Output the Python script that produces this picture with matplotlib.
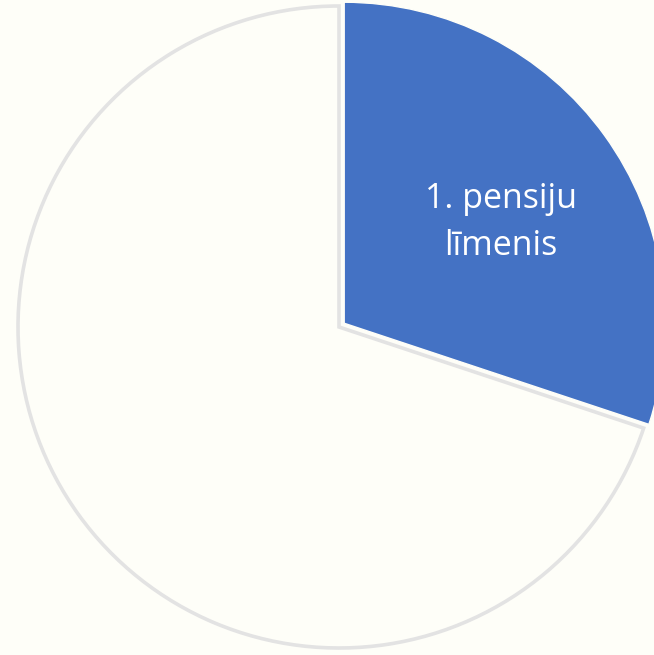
import numpy as np
import matplotlib
matplotlib.use("Agg")
from matplotlib import pyplot as plt

# data
LABELS = ["1. pensiju\nlīmenis", ""]
SHARES = [30.1, 69.9]
COLORS = ["#4472C4", "#FEFEF8"]
EDGES = ["#FEFEF8", "#E3E3E3"]
EXPLODE = [0.02, 0.0]

BG = "#FEFEF8"
W, H = 654, 655
CX, CY, R = 339, 327, 321  # pixel centre / radius of the pie


def main() -> None:
    fig = plt.figure(figsize=(W / 100, H / 100), dpi=100, facecolor=BG)
    ax = fig.add_axes([0, 0, 1, 1])
    ax.set_facecolor(BG)

    wedges, _ = ax.pie(
        SHARES,
        colors=COLORS,
        explode=EXPLODE,
        startangle=90,
        counterclock=False,
        radius=1.0,
        wedgeprops=dict(linewidth=2.6),
    )
    for w, ec in zip(wedges, EDGES):
        w.set_edgecolor(ec)
    wedges[0].set_linewidth(1.0)
    wedges[0].set_zorder(3)

    # label inside the blue slice
    for w, lab in zip(wedges, LABELS):
        if not lab:
            continue
        mid = np.deg2rad((w.theta1 + w.theta2) / 2 - 3)
        cx, cy = w.center
        ax.text(cx + 0.58 * np.cos(mid), cy + 0.58 * np.sin(mid), lab,
                ha="center", va="center", color="white", fontsize=24.5,
                family=["Open Sans", "DejaVu Sans"], linespacing=1.5, zorder=4)

    ax.set_xlim(-CX / R, (W - CX) / R)
    ax.set_ylim(-(H - CY) / R, CY / R)
    ax.set_aspect("auto")
    ax.axis("off")

    fig.savefig("out.png", dpi=100, facecolor=BG)


if __name__ == "__main__":
    main()
